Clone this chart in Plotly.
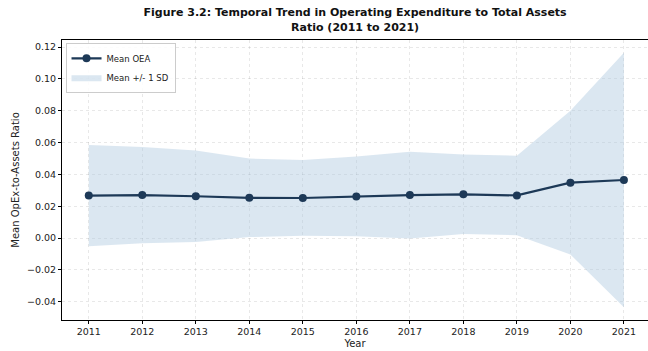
import plotly.graph_objects as go

years = [2011, 2012, 2013, 2014, 2015, 2016, 2017, 2018, 2019, 2020, 2021]
mean_oea = [0.0267, 0.0270, 0.0263, 0.0253, 0.0252, 0.0262, 0.0270, 0.0275, 0.0268, 0.0348, 0.0365]
sd_oea = [0.0318, 0.0302, 0.0288, 0.0247, 0.0238, 0.0250, 0.0272, 0.0250, 0.0250, 0.0452, 0.0800]

upper = [m + s for m, s in zip(mean_oea, sd_oea)]
lower = [m - s for m, s in zip(mean_oea, sd_oea)]

LINE = "#1d3957"
FILL = "rgba(170,198,222,0.42)"
FONT = "DejaVu Sans"

fig = go.Figure()
fig.add_trace(go.Scatter(x=years, y=lower, mode="lines", line=dict(width=0),
                         showlegend=False, hoverinfo="skip"))
fig.add_trace(go.Scatter(x=years, y=upper, mode="lines", line=dict(width=0),
                         fill="tonexty", fillcolor=FILL, name="Mean +/- 1 SD"))
fig.add_trace(go.Scatter(x=years, y=mean_oea, mode="lines+markers", name="Mean OEA",
                         line=dict(color=LINE, width=2.2),
                         marker=dict(color=LINE, size=8)))

axis_common = dict(showline=True, linecolor="black", linewidth=1, mirror=True,
                   ticks="outside", ticklen=3, tickcolor="black",
                   showgrid=True, gridcolor="rgba(0,0,0,0.09)", griddash="dot", gridwidth=1,
                   zeroline=False, tickfont=dict(family=FONT, size=9.5, color="#222"))

fig.update_layout(
    width=648, height=351,
    margin=dict(l=62, r=0, t=40, b=31),
    paper_bgcolor="white", plot_bgcolor="white",
    title=dict(text="<b>Figure 3.2: Temporal Trend in Operating Expenditure to Total Assets<br>Ratio (2011 to 2021)</b>",
               x=0.548, xanchor="center", yref="container", y=0.953, yanchor="middle",
               font=dict(family=FONT, size=11, color="#111")),
    xaxis=dict(range=[2010.5, 2021.45], tickvals=years, ticktext=[str(y) for y in years],
               title=dict(text="Year", font=dict(family=FONT, size=10, color="#222"), standoff=3),
               **axis_common),
    yaxis=dict(range=[-0.0515, 0.1245], tickvals=[-0.04, -0.02, 0.0, 0.02, 0.04, 0.06, 0.08, 0.10, 0.12],
               ticktext=["\u22120.04", "\u22120.02", "0.00", "0.02", "0.04", "0.06", "0.08", "0.10", "0.12"],
               title=dict(text="Mean OpEx-to-Assets Ratio", font=dict(family=FONT, size=10, color="#222"), standoff=5),
               **axis_common),
    legend=dict(x=0.006, y=0.99, xanchor="left", yanchor="top",
                bgcolor="rgba(255,255,255,0.85)", bordercolor="#cccccc", borderwidth=1,
                font=dict(family=FONT, size=8.5, color="#222"), traceorder="reversed",
                itemwidth=30, tracegroupgap=0),
    showlegend=True,
)

fig.write_html("out.html")
